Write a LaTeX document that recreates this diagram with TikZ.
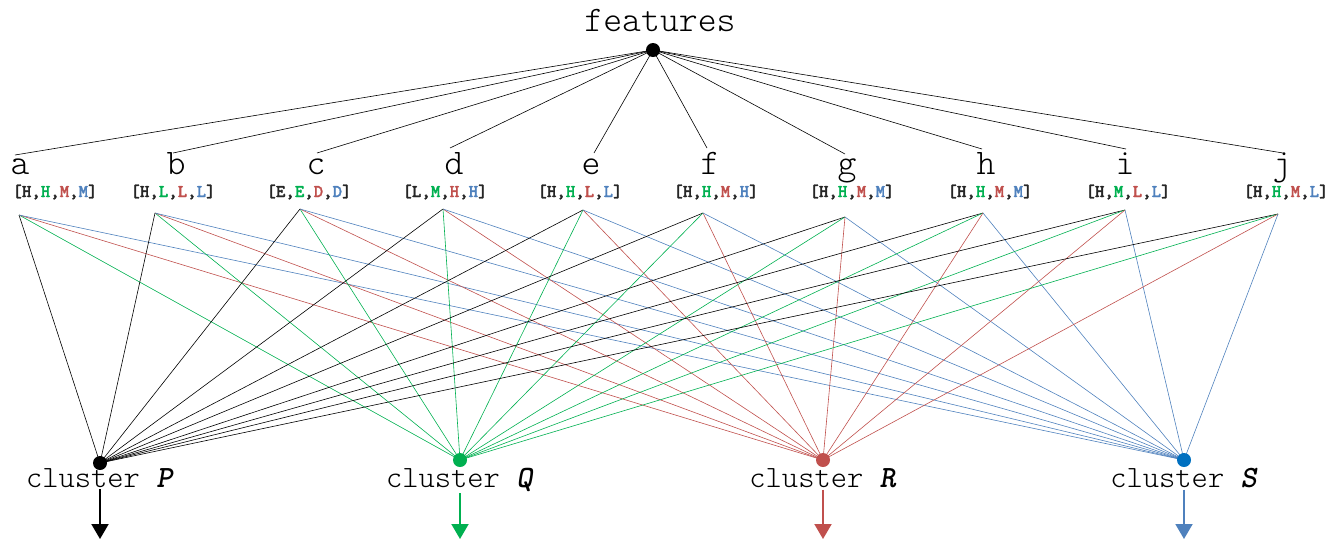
\documentclass[tikz,border=0pt]{standalone}
\usepackage{fontspec}
\newfontfamily\mono{lmmonolt10-regular.otf}[BoldFont=lmmonolt10-bold.otf, ItalicFont=lmmonolt10-oblique.otf, BoldItalicFont=lmmonolt10-boldoblique.otf]
\newfontfamily\labfont{lmmonolt10-bold.otf}[FakeBold=1.6]
\usetikzlibrary{arrows.meta}
\definecolor{cg}{HTML}{00B050}
\definecolor{cr}{HTML}{C0504D}
\definecolor{cb}{HTML}{4F81BD}
\definecolor{cdot}{HTML}{0070C0}
\definecolor{ck}{HTML}{262626}
\newcommand\flab[4]{\textcolor{ck}{[#1,\textcolor{cg}{#2},\textcolor{cr}{#3},\textcolor{cb}{#4}]}}
\tikzset{
  edge/.style={line width=0.6pt},
  topedge/.style={line width=0.6pt, black},
  dotnode/.style={circle, inner sep=0pt, minimum size=14pt},
  letter/.style={font=\mono\fontsize{36}{40}\selectfont, anchor=base, inner sep=0pt},
  featlab/.style={font=\labfont\fontsize{18}{20}\selectfont, anchor=base, inner sep=0pt},
  clus/.style={font=\mono\fontsize{31}{34}\selectfont, anchor=base, inner sep=2pt},
  outarrow/.style={line width=2pt, -{Triangle[width=17pt,length=15pt]}},
}
\begin{document}
\begin{tikzpicture}[x=1pt,y=-1pt]
\useasboundingbox (0,0) rectangle (1328,539);
% top
\node[letter] (feat) at (660,31) {features};
\coordinate (F) at (653,50);
% feature top endpoints
\coordinate (ta) at (15,155);
\coordinate (tb) at (173,153);
\coordinate (tc) at (317,153);
\coordinate (td) at (450,148);
\coordinate (te) at (594,153);
\coordinate (tf) at (707,148);
\coordinate (tg) at (845,154);
\coordinate (th) at (982,149);
\coordinate (ti) at (1126,149);
\coordinate (tj) at (1283,153);
% fan points
\coordinate (la) at (19,215);
\coordinate (lb) at (155,213);
\coordinate (lc) at (300,209);
\coordinate (ld) at (443,209);
\coordinate (le) at (583,210);
\coordinate (lf) at (703,213);
\coordinate (lg) at (845,217);
\coordinate (lh) at (983,213);
\coordinate (li) at (1125,210);
\coordinate (lj) at (1278,214);
% clusters
\coordinate (cP) at (100,463);
\coordinate (cQ) at (460,460);
\coordinate (cR) at (823,460);
\coordinate (cS) at (1184,460);
% letters
\node[letter] (na) at (20,174) {a};
\node[letter] (nb) at (176,174) {b};
\node[letter] (nc) at (316,174) {c};
\node[letter] (nd) at (454,174) {d};
\node[letter] (ne) at (591,174) {e};
\node[letter] (nf) at (710,174) {f};
\node[letter] (ng) at (847,174) {g};
\node[letter] (nh) at (986,174) {h};
\node[letter] (ni) at (1125,174) {i};
\node[letter] (nj) at (1282,174) {j};
% labels
\node[featlab] (pa) at (55,197) {\flab{H}{H}{M}{M}};
\node[featlab] (pb) at (173,197) {\flab{H}{L}{L}{L}};
\node[featlab] (pc) at (309,197) {\flab{E}{E}{D}{D}};
\node[featlab] (pd) at (445,197) {\flab{L}{M}{H}{H}};
\node[featlab] (pe) at (580,197) {\flab{H}{H}{L}{L}};
\node[featlab] (pf) at (716,197) {\flab{H}{H}{M}{H}};
\node[featlab] (pg) at (852,197) {\flab{H}{H}{M}{M}};
\node[featlab] (ph) at (990,197) {\flab{H}{H}{M}{M}};
\node[featlab] (pi) at (1128,197) {\flab{H}{M}{L}{L}};
\node[featlab] (pj) at (1286,197) {\flab{H}{H}{M}{L}};
% top edges
\foreach \f in {a,b,c,d,e,f,g,h,i,j}
  \draw[topedge] (F) -- (t\f);
% bottom edges
\foreach \f in {a,b,c,d,e,f,g,h,i,j}{
  \draw[edge,black] (l\f) -- (cP);
  \draw[edge,cg] (l\f) -- (cQ);
  \draw[edge,cr] (l\f) -- (cR);
  \draw[edge,cb] (l\f) -- (cS);
}
% dots
\node[dotnode, fill=black] (Fd) at (F) {};
\node[dotnode, fill=black] (P) at (cP) {};
\node[dotnode, fill=cg] (Q) at (cQ) {};
\node[dotnode, fill=cr] (R) at (cR) {};
\node[dotnode, fill=cdot] (S) at (cS) {};
% cluster labels
\node[clus] (lP) at (100,487) {cluster \textbf{\textit{P}}};
\node[clus] (lQ) at (460,487) {cluster \textbf{\textit{Q}}};
\node[clus] (lR) at (823,487) {cluster \textbf{\textit{R}}};
\node[clus] (lS) at (1184,487) {cluster \textbf{\textit{S}}};
\coordinate (aP) at (100,539);
\coordinate (aQ) at (460,539);
\coordinate (aR) at (823,539);
\coordinate (aS) at (1184,539);
\draw[outarrow, black] (lP) -- (aP);
\draw[outarrow, cg] (lQ) -- (aQ);
\draw[outarrow, cr] (lR) -- (aR);
\draw[outarrow, cb] (lS) -- (aS);
\end{tikzpicture}
\end{document}
